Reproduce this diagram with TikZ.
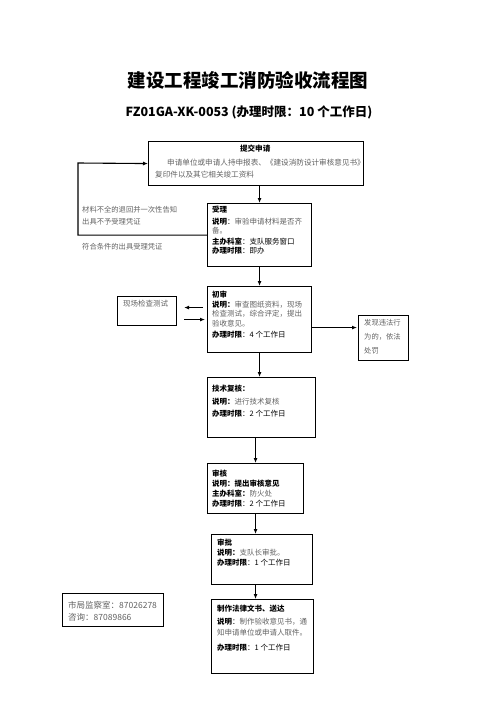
\documentclass[tikz,border=0pt]{standalone}
\usepackage{fontspec}
\setmainfont{Noto Sans CJK SC}
\usepackage{tikz}
\usetikzlibrary{arrows.meta}
\definecolor{notegray}{gray}{0.38}
\newcommand{\keyw}[1]{{\bfseries #1}}
\newcommand{\desc}[1]{{\color{notegray}#1}}
\tikzset{
  box/.style={draw,line width=1.1pt,anchor=north west,inner sep=0pt},
  info/.style={anchor=north west,align=left,inner sep=0pt,font=\fontsize{7.5}{10}\selectfont},
  note/.style={info,text=notegray},
  flow/.style={-{Latex[length=5pt,width=4pt]},line width=1.1pt}
}

\begin{document}
\begin{tikzpicture}[x=1pt,y=-1pt]
  \useasboundingbox (0,0) rectangle (496,702);
  % title
  \node[font=\fontsize{18.5}{20}\selectfont\bfseries] (title) at (248,80) {建设工程竣工消防验收流程图};
  \node[font=\fontsize{12.5}{14}\selectfont\bfseries] (code) at (249,112) {FZ01GA-XK-0053 (办理时限：10 个工作日)};

  % boxes
  \node[box,minimum width=215pt,minimum height=44pt] (tijiao) at (148,141) {};
  \node[box,minimum width=104pt,minimum height=63pt] (shouli) at (207,203) {};
  \node[box,minimum width=104pt,minimum height=66pt] (chushen) at (207,286) {};
  \node[box,minimum width=59pt,minimum height=29pt] (xianchang) at (117,296) {};
  \node[box,minimum width=50pt,minimum height=45pt] (weifa) at (358,315) {};
  \node[box,minimum width=108pt,minimum height=60pt] (jishu) at (207,377) {};
  \node[box,minimum width=96pt,minimum height=50pt] (shenhe) at (207,463) {};
  \node[box,minimum width=101pt,minimum height=50pt] (shenpi) at (211,534) {};
  \node[box,minimum width=102pt,minimum height=74pt] (zhizuo) at (211,599) {};
  \node[box,minimum width=101pt,minimum height=33pt] (shiju) at (62,593) {};

  % texts
  \node[info,font=\fontsize{7.6}{12}\selectfont] (tijiao-t) at (155,145)
    {\makebox[200pt]{\keyw{提交申请}}\\[2pt]
     \desc{\hspace{12pt}申请单位或申请人持申报表、《建设消防设计审核意见书》}\\
     \desc{复印件以及其它相关竣工资料}};
  \node[info] (shouli-t) at (212,206)
    {\keyw{受理}\\[2pt]
     \keyw{说明}：\desc{审验申请材料是否齐}\\[-1pt]
     \desc{备。}\\[1pt]
     \keyw{主办科室}：支队服务窗口\\[-1pt]
     \keyw{办理时限}：即办};
  \node[info,font=\fontsize{7.5}{9.5}\selectfont] (chushen-t) at (212,291)
    {\keyw{初审}\\
     \keyw{说明：}\desc{审查图纸资料，现场}\\
     \desc{检查测试，综合评定，提出}\\
     \desc{验收意见。}\\[2pt]
     \keyw{办理时限}：4 个工作日};
  \node[info,font=\fontsize{7.5}{12.5}\selectfont] (jishu-t) at (212,385)
    {\keyw{技术复核：}\\
     \keyw{说明：}\desc{进行技术复核}\\
     \keyw{办理时限}：2 个工作日};
  \node[info] (shenhe-t) at (212,470)
    {\keyw{审核}\\
     \keyw{说明：提出审核意见}\\
     \keyw{主办科室：}\desc{防火处}\\
     \keyw{办理时限}：2 个工作日};
  \node[info] (shenpi-t) at (217,539)
    {\keyw{审批}\\
     \keyw{说明：}\desc{支队长审批。}\\
     \keyw{办理时限}：1 个工作日};
  \node[info] (zhizuo-t) at (217,605)
    {\keyw{制作法律文书、送达}\\[3pt]
     \keyw{说明}：\desc{制作验收意见书，通}\\[1pt]
     \desc{知申请单位或申请人取件。}\\[5pt]
     \keyw{办理时限}：1 个工作日};
  \node[note] (xianchang-t) at (123,300) {现场检查测试};
  \node[note,font=\fontsize{7.3}{14}\selectfont] (weifa-t) at (364,319) {发现违法行\\为的，依法\\处罚};
  \node[note,font=\fontsize{7.3}{12}\selectfont] (back-t) at (82,206) {材料不全的退回并一次性告知\\出具不予受理凭证};
  \node[note,font=\fontsize{7.3}{12}\selectfont] (pass-t) at (82,243) {符合条件的出具受理凭证};
  \node[note,font=\fontsize{8.5}{12}\selectfont] (shiju-t) at (68,601) {市局监察室：87026278\\咨询：87089866};

  % connectors
  \draw[flow] (shouli.north |- tijiao.south) -- (shouli.north);
  \draw[flow] (shouli.south) -- (chushen.north);
  \draw[flow] (chushen.south) -- (chushen.south |- jishu.north);
  \draw[flow] (shenhe.north |- jishu.south) -- (shenhe.north);
  \draw[flow] (shenhe.south) -- (shenhe.south |- shenpi.north);
  \draw[flow] (shenhe.south |- shenpi.south) -- (shenhe.south |- zhizuo.north);
  \coordinate (turn) at (78,163);
  \draw[flow] (shouli.west) -| (turn) -- (tijiao.west);
  \coordinate (up) at ([yshift=12pt]chushen.west);
  \draw[flow,shorten <=4pt,shorten >=7pt] (up) -- (up -| xianchang.east);
  \draw[flow,shorten <=7pt,shorten >=2pt] (xianchang.east |- chushen.west) -- (chushen.west);
  \coordinate (out) at ([yshift=-8pt]chushen.east);
  \draw[flow,shorten >=1pt] (out) -- (out -| weifa.west);
\end{tikzpicture}
\end{document}
